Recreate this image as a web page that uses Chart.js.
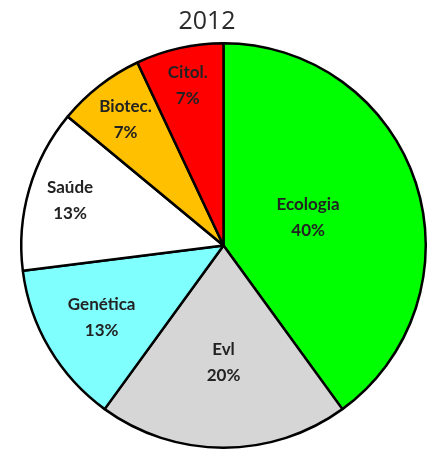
<!DOCTYPE html>
<html>
<head>
<meta charset="utf-8">
<script src="https://cdn.jsdelivr.net/npm/chart.js@4"></script>
<style>
  body { margin: 0; background: #fff; }
  #wrap { width: 427px; height: 453px; }
</style>
</head>
<body>
<div id="wrap"><canvas id="myChart"></canvas></div>
<script>
const titleText = "2012";
const areas = ["Ecologia", "Evl", "Genética", "Saúde", "Biotec.", "Citol."];
const shares = [40, 20, 13, 13, 7, 7];
const sliceColors = ["#00ff00", "#d6d6d6", "#80ffff", "#ffffff", "#ffc000", "#ff0000"];

// how far out (fraction of radius) each label sits
const labelDepth = [0.44, 0.58, 0.70, 0.79, 0.79, 0.81];

const sliceLabels = {
  id: "sliceLabels",
  afterDraw(chart) {
    const ctx = chart.ctx;
    const meta = chart.getDatasetMeta(0);
    ctx.save();
    ctx.fillStyle = "#222";
    ctx.textAlign = "center";
    ctx.textBaseline = "middle";
    ctx.font = "bold 17px Lato";
    meta.data.forEach((arc, i) => {
      const p = arc.getProps(["x", "y", "startAngle", "endAngle", "outerRadius"], true);
      const mid = (p.startAngle + p.endAngle) / 2;
      const r = p.outerRadius * labelDepth[i];
      const x = p.x + Math.cos(mid) * r;
      const y = p.y + Math.sin(mid) * r;
      ctx.fillText(areas[i], x, y - 13);
      ctx.fillText(shares[i] + "%", x, y + 13);
    });
    // title
    ctx.fillStyle = "#2a2a2a";
    ctx.font = "25px 'Open Sans'";
    ctx.fillText(titleText, 207, 22);
    ctx.restore();
  },
};

const ctx = document.getElementById("myChart").getContext("2d");
const myChart = new Chart(ctx, {
  type: "pie",
  data: {
    labels: areas,
    datasets: [
      {
        data: shares,
        backgroundColor: sliceColors,
        borderColor: "#000",
        borderWidth: 2.5,
      },
    ],
  },
  options: {
    responsive: true,
    maintainAspectRatio: false,
    animation: false,
    layout: { padding: { top: 40, bottom: 2, left: 20, right: 0 } },
    plugins: {
      legend: { display: false },
      tooltip: { enabled: false },
      title: { display: false },
    },
  },
  plugins: [sliceLabels],
});
</script>
</body>
</html>
